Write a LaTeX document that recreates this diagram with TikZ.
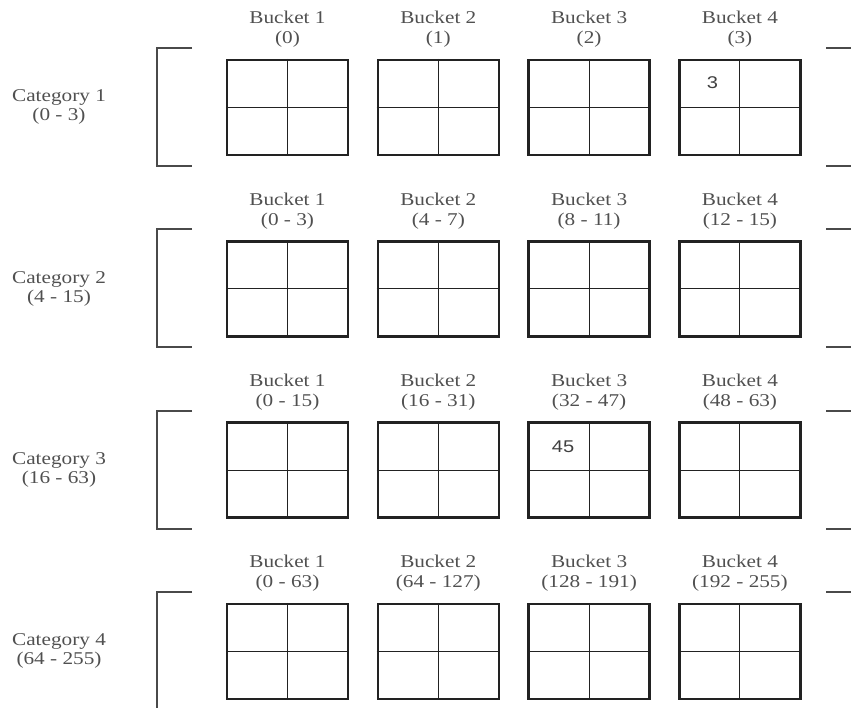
\documentclass[tikz,border=0pt]{standalone}
\usepackage{fontspec}
\setmainfont{Liberation Serif}
\newfontfamily\numfont{Liberation Sans}
\definecolor{labelgray}{HTML}{505050}
\definecolor{bracketgray}{HTML}{4A4A4A}
\definecolor{boxblack}{HTML}{222222}
\newcommand{\wlab}[1]{\scalebox{1.18}[1]{#1}}
\begin{document}
\begin{tikzpicture}[x=1pt,y=-1pt,
  bucketbox/.style={draw=boxblack,line width=2.4pt,minimum width=121pt,minimum height=95pt,inner sep=0pt,fill=white},
  innerline/.style={draw=boxblack,line width=1.1pt},
  bracketline/.style={draw=bracketgray,line width=2.2pt},
  lab/.style={anchor=base,inner sep=0pt,text=labelgray,font=\fontsize{18}{20}\selectfont},
  numlab/.style={inner sep=0pt,text=black!75,font=\numfont\fontsize{17}{19}\selectfont}]
\useasboundingbox (0,0) rectangle (851,708);
\clip (0,0) rectangle (851,708);
\foreach \r/\cat/\crange/\blist in {
  0/1/(0 - 3)/{(0),(1),(2),(3)},
  1/2/(4 - 15)/{(0 - 3),(4 - 7),(8 - 11),(12 - 15)},
  2/3/(16 - 63)/{(0 - 15),(16 - 31),(32 - 47),(48 - 63)},
  3/4/(64 - 255)/{(0 - 63),(64 - 127),(128 - 191),(192 - 255)}}{
  \pgfmathsetmacro{\dy}{181.33*\r}
  % category label
  \node[lab] (cat\cat a) at (59,102+\dy) {\wlab{Category \cat}};
  \node[lab] (cat\cat b) at (59,121+\dy) {\wlab{\crange}};
  % left bracket
  \coordinate (lbt\cat) at (192,48+\dy);
  \coordinate (lbtc\cat) at (157,48+\dy);
  \coordinate (lbbc\cat) at (157,166+\dy);
  \coordinate (lbb\cat) at (192,166+\dy);
  \draw[bracketline] (lbt\cat) -- (lbtc\cat) -- (lbbc\cat) -- (lbb\cat);
  % right bracket
  \coordinate (rbt\cat) at (826,48+\dy);
  \coordinate (rbte\cat) at (852,48+\dy);
  \coordinate (rbb\cat) at (826,166+\dy);
  \coordinate (rbbe\cat) at (852,166+\dy);
  \draw[bracketline] (rbt\cat) -- (rbte\cat);
  \draw[bracketline] (rbb\cat) -- (rbbe\cat);
  \foreach \rtext [count=\bn] in \blist {
    \pgfmathsetmacro{\cx}{287.5+150.8*(\bn-1)}
    \node[bucketbox] (b\cat\bn) at (\cx,107.5+\dy) {};
    \draw[innerline] (b\cat\bn.north) -- (b\cat\bn.south);
    \draw[innerline] (b\cat\bn.west) -- (b\cat\bn.east);
    \node[lab] (bl\cat\bn a) at (\cx,24+\dy) {\wlab{Bucket \bn}};
    \node[lab] (bl\cat\bn b) at (\cx,44+\dy) {\wlab{\rtext}};
  }
}
\node[numlab] (v3) at (712.5,82.5) {\wlab{3}};
\node[numlab] (v45) at (563,447) {\wlab{45}};
\end{tikzpicture}
\end{document}
